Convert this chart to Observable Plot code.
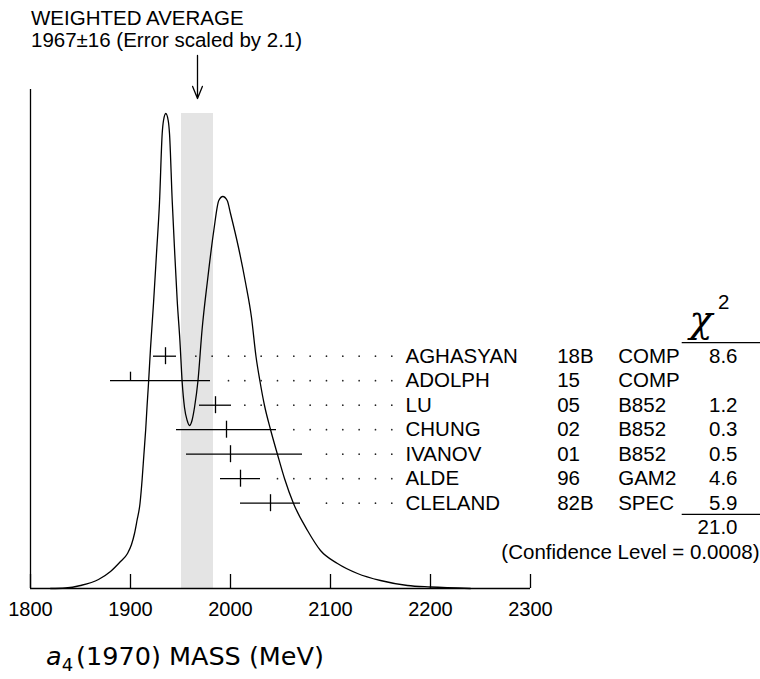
<!DOCTYPE html>
<html><head><meta charset="utf-8">
<script src="https://cdn.jsdelivr.net/npm/d3@7"></script>
<script src="https://cdn.jsdelivr.net/npm/@observablehq/plot@0.6"></script>
<style>
html,body{margin:0;padding:0;background:#fff;}
#chart{width:760px;height:679px;}
#chart svg{display:block;}
</style>
</head><body><div id="chart"></div>
<script>
// ---------- data ----------
const authors    = ["AGHASYAN","ADOLPH","LU","CHUNG","IVANOV","ALDE","CLELAND"];
const years      = ["18B","15","05","02","01","96","82B"];
const techniques = ["COMP","COMP","B852","B852","B852","GAM2","SPEC"];
const values     = [1935, 1900, 1985, 1996, 2000, 2010, 2040];
const errLow     = [12, 20, 16, 50, 44, 20, 30];
const errHigh    = [11, 80, 16, 50, 72, 20, 30];
const usedInFit  = [true, false, true, true, true, true, true];
const chi2       = ["8.6","","1.2","0.3","0.5","4.6","5.9"];
const chi2Total  = "21.0";
const confidence = "(Confidence Level = 0.0008)";
const average = 1967, averageError = 16, errorScale = 2.1;
const xTicks = [1800, 1900, 2000, 2100, 2200, 2300];
const titleLine1 = "WEIGHTED AVERAGE";
const titleLine2 = `${average}\u00b1${averageError} (Error scaled by ${errorScale})`;
// ideogram curve (mass in MeV, height in arbitrary units)
const ideoMass = [1820,1835,1850,1868,1880,1890,1897,1901,1904,1906.5,1909.5,1911.7,1913.4,1915.2,1916.6,1918,1920,1923,1926,1929,1931.7,1933,1935.3,1937.7,1939,1941.7,1944,1946.7,1949.4,1951.7,1954,1956.7,1959,1961.5,1964,1967.5,1971.5,1977,1983.3,1988.3,1992.3,1996.7,2000,2008,2015,2021,2025.5,2029.5,2034,2040,2047,2054,2063,2077,2090,2107,2127,2150,2177,2200,2240];
const ideoHeight = [0,0.5,3,9,17,27,35,44,55,68,85,110,134,159,183,205,240,285,335,386,455,468,475,468,455,388,340,288,248,206,181,168,163,168,181,208,258,308,358,388,392,388,375,341,306,271,232,207,183,159,134,110,85,58,38,25,15,8,3,1.5,0];

// ---------- layout constants ----------
const W = 760, H = 679;
const rowTop = 232.3, rowStep = 24.5;          // table rows (units above baseline)
const dotStep = 16.33, dotEnd = 2161.3, dotGap = 11;
const tickLen = 14, barTick = 8.5;
const font = '"Liberation Sans", Arial, Helvetica, sans-serif';
const fs = 20.5;

const curve = ideoMass.map((m, i) => ({m, h: ideoHeight[i]}));
const bandTop = d3.max(ideoHeight);
const rows = authors.map((a, i) => ({
  author: a, year: years[i], tech: techniques[i], chi2: chi2[i],
  value: values[i], lo: values[i] - errLow[i], hi: values[i] + errHigh[i],
  used: usedInFit[i], y: rowTop - i * rowStep
}));
const dots = rows.flatMap(r =>
  d3.range(0, 30).map(k => dotEnd - k * dotStep)
    .filter(x => x > r.hi + dotGap).map(x => ({x, y: r.y})));
const extra = [
  {text: chi2Total, y: rowTop - 7 * rowStep},
];

const plot = Plot.plot({
  width: W, height: H,
  marginLeft: 30, marginRight: 230, marginTop: 0, marginBottom: 91,
  x: {domain: [1800, 2300], axis: null},
  y: {domain: [0, 500], range: [588, 88], axis: null},
  style: {fontFamily: font, fontSize: fs + "px", background: "white", color: "black", overflow: "visible"},
  marks: [
    Plot.rect([0], {x1: () => average - averageError, x2: () => average + averageError, y1: () => 0, y2: () => bandTop, fill: "#e4e4e4"}),
    Plot.line(curve, {x: "m", y: "h", curve: "monotone-x", stroke: "black", strokeWidth: 1.3}),
    Plot.ruleY([0], {stroke: "black", strokeWidth: 1.3}),
    Plot.ruleX([1800], {y1: 0, y2: 499, stroke: "black", strokeWidth: 1.3}),
    Plot.ruleX(xTicks, {x: d => d, y1: 0, y2: tickLen, stroke: "black", strokeWidth: 1.3}),
    Plot.text(xTicks, {x: d => d, y: 0, dy: 21, text: d => String(d), fontSize: 20, lineAnchor: "middle"}),
    Plot.arrow([0], {x1: () => average, x2: () => average, y1: () => bandTop + 15 + 43, y2: () => bandTop + 15, headLength: 15, headAngle: 44, stroke: "black", strokeWidth: 1.3}),
    // measurements
    Plot.ruleY(rows, {y: "y", x1: "lo", x2: "hi", stroke: "black", strokeWidth: 1.3}),
    Plot.ruleX(rows, {x: "value", y1: d => d.used ? d.y - barTick : d.y, y2: d => d.y + barTick, stroke: "black", strokeWidth: 1.3}),
    Plot.dot(dots, {x: "x", y: "y", r: 0.85, fill: "#222"}),
    // table
    Plot.text(rows, {y: "y", text: "author", frameAnchor: "left", dx: 375, textAnchor: "start", lineAnchor: "middle"}),
    Plot.text(rows, {y: "y", text: "year", frameAnchor: "left", dx: 526.7, textAnchor: "start", lineAnchor: "middle"}),
    Plot.text(rows, {y: "y", text: "tech", frameAnchor: "left", dx: 587.7, textAnchor: "start", lineAnchor: "middle"}),
    Plot.text(rows, {y: "y", text: "chi2", frameAnchor: "left", dx: 707, textAnchor: "end", lineAnchor: "middle"}),
    Plot.text(extra, {y: "y", text: "text", frameAnchor: "left", dx: 707, textAnchor: "end", lineAnchor: "middle"}),
    Plot.text([confidence], {y: () => rowTop - 8 * rowStep, text: d => d, frameAnchor: "left", dx: 729, textAnchor: "end", lineAnchor: "middle"})
  ]
});

const svg = d3.select(plot);
const ys = v => plot.scale("y").apply(v);
// title
svg.append("text").attr("x", 31).attr("y", 25).attr("text-anchor", "start").attr("font-size", fs).attr("font-family", font).text(titleLine1);
svg.append("text").attr("x", 31).attr("y", 47).attr("text-anchor", "start").attr("font-size", fs).attr("font-family", font).text(titleLine2);
// chi-square header and table rules
svg.append("text").attr("x", 701).attr("y", 332).attr("text-anchor", "middle")
  .attr("font-family", '"DejaVu Serif", "Liberation Serif", serif').attr("font-style", "italic").attr("font-size", 38).text("\u03c7");
svg.append("text").attr("x", 718).attr("y", 309).attr("text-anchor", "start").attr("font-family", font).attr("font-size", fs).text("2");
const lineY1 = ys(rowTop) - 13, lineY2 = ys(rowTop - 6 * rowStep) + 11.6;
[lineY1, lineY2].forEach(y => svg.append("line").attr("x1", 681.7).attr("x2", 760)
  .attr("y1", y).attr("y2", y).attr("stroke", "black").attr("stroke-width", 1.3));
// x axis title
const lab = svg.append("text").attr("x", 46).attr("y", 665).attr("text-anchor", "start")
  .attr("font-family", '"DejaVu Sans", sans-serif').attr("font-size", 25.5);
lab.append("tspan").attr("font-style", "italic").text("a");
lab.append("tspan").attr("font-size", 18).attr("dy", 6).text("4");
lab.append("tspan").attr("dy", -6).attr("dx", 3).text("(1970) MASS (MeV)");

document.getElementById("chart").appendChild(plot);
</script>
</body></html>
